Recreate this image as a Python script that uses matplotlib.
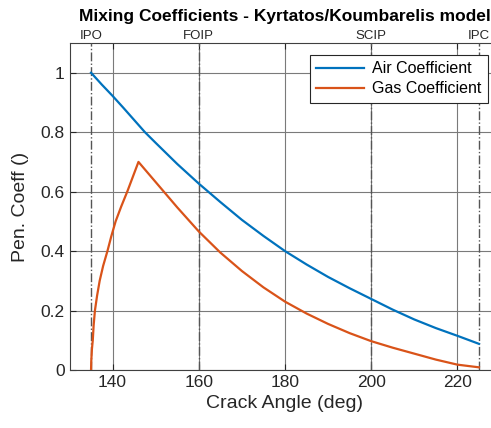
import matplotlib
matplotlib.use("Agg")
import matplotlib.pyplot as plt

# Data
air_angle = [135, 137.5, 140, 142.5, 145, 147.5, 150, 155, 160, 165, 170, 175, 180,
             185, 190, 195, 200, 205, 210, 215, 220, 225]
air_coeff = [1.0, 0.96, 0.922, 0.882, 0.841, 0.80, 0.764, 0.693, 0.627, 0.565, 0.505,
             0.451, 0.40, 0.355, 0.313, 0.275, 0.239, 0.203, 0.17, 0.141, 0.115, 0.088]

gas_angle = [135, 135.05, 135.2, 135.4, 135.6, 135.9, 136.4, 137.0, 137.8, 138.8, 139.7,
             140.7, 142.0, 143.4, 144.7, 146, 150, 155, 160, 165, 170, 175, 180, 185,
             190, 195, 200, 205, 210, 215, 220, 225]
gas_coeff = [0.0, 0.03, 0.07, 0.1, 0.15, 0.2, 0.25, 0.3, 0.35, 0.4, 0.45,
             0.5, 0.55, 0.6, 0.65, 0.70, 0.632, 0.547, 0.466, 0.395, 0.333, 0.278, 0.23, 0.19,
             0.155, 0.124, 0.097, 0.075, 0.055, 0.035, 0.018, 0.009]

event_angles = [135, 160, 200, 225]
event_labels = ["IPO", "FOIP", "SCIP", "IPC"]

x_ticks = [140, 160, 180, 200, 220]
y_ticks = [0, 0.2, 0.4, 0.6, 0.8, 1.0]
y_tick_labels = ["0", "0.2", "0.4", "0.6", "0.8", "1"]

plt.rcParams['font.family'] = ['Liberation Sans', 'DejaVu Sans']

W, H = 491, 428
fig = plt.figure(figsize=(W / 100, H / 100), dpi=100)
left, right, bottom, top = 69.5, 500.5, 370, 43
ax = fig.add_axes([left / W, (H - bottom) / H, (right - left) / W, (bottom - top) / H])

ax.plot(air_angle, air_coeff, color='#0072BD', lw=1.6, label='Air Coefficient', zorder=4)
ax.plot(gas_angle, gas_coeff, color='#D95319', lw=1.6, label='Gas Coefficient', zorder=4)

for a, lab in zip(event_angles, event_labels):
    ax.axvline(a, color='#555555', lw=1.0, ls='-.', zorder=3)
    ax.text(a, 1.1 + 0.005, lab, ha='center', va='bottom', fontsize=9.5, color='#262626',
            clip_on=False)

ax.set_xlim(130, 230)
ax.set_ylim(0, 1.1)
ax.set_xticks(x_ticks)
ax.set_yticks(y_ticks)
ax.set_yticklabels(y_tick_labels)
ax.tick_params(direction='in', labelsize=12.5, colors='#262626', length=4, top=True, right=True,
               width=0.8)
ax.grid(True, color='#7a7a7a', lw=0.8)
ax.set_axisbelow(True)
for s in ax.spines.values():
    s.set_color('#404040')
    s.set_linewidth(0.8)

ax.set_xlabel('Crack Angle (deg)', fontsize=14, color='#262626', labelpad=4)
ax.set_ylabel('Pen. Coeff ()', fontsize=14, color='#262626', labelpad=8)
ax.set_title('Mixing Coefficients - Kyrtatos/Koumbarelis model', fontsize=12.5,
             fontweight='bold', pad=16)

leg = ax.legend(loc='upper right', bbox_to_anchor=(488 / W, (H - 55) / H),
                bbox_transform=fig.transFigure, fontsize=11.5, frameon=True, fancybox=False,
                handlelength=3.0, borderpad=0.4, labelspacing=0.3, handletextpad=0.5,
                borderaxespad=0)
leg.get_frame().set_edgecolor('#262626')
leg.get_frame().set_linewidth(0.8)
leg.get_frame().set_alpha(1)

fig.savefig('out.png', dpi=100)
